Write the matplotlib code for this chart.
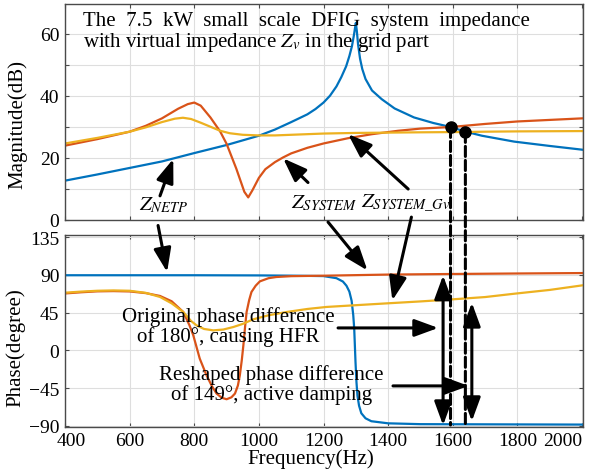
import matplotlib.pyplot as plt
from matplotlib.patches import ConnectionPatch
from matplotlib.transforms import ScaledTranslation

plt.rcParams['font.family'] = 'Liberation Serif'
plt.rcParams['mathtext.fontset'] = 'stix'

# magnitude (Hz, dB)
f_netp_mag = [400, 500, 600, 700, 800, 900, 1000, 1050, 1100, 1150, 1175, 1200, 1220, 1240,
              1255, 1270, 1280, 1288, 1294, 1298, 1300, 1303, 1307, 1313, 1320, 1330, 1350,
              1380, 1420, 1480, 1540, 1590, 1640, 1690, 1790, 1900, 2000]
netp_mag = [12.6, 14.6, 16.7, 18.8, 21.5, 24.1, 27.1, 29.1, 31.5, 34.0, 35.7, 37.8, 40.0, 43.0,
            46.0, 49.5, 52.8, 56.0, 59.5, 62.2, 63.5, 61.0, 56.5, 52.0, 48.6, 45.4, 41.7,
            38.9, 35.9, 33.0, 31.2, 30.0, 28.4, 27.1, 25.2, 23.8, 22.6]

f_sys_mag = [400, 500, 600, 650, 700, 750, 780, 800, 820, 850, 880, 900, 930, 955, 967, 980,
             1000, 1020, 1050, 1075, 1100, 1150, 1200, 1276, 1350, 1431, 1500, 1593, 1700,
             1800, 1900, 2000]
sys_mag = [23.9, 26.0, 28.4, 30.3, 32.7, 35.8, 37.3, 37.8, 36.8, 33.0, 28.5, 24.5, 16.5, 9.0,
           7.2, 9.5, 13.5, 16.3, 18.6, 20.1, 21.4, 23.2, 24.6, 26.3, 27.6, 28.7, 29.4, 29.9,
           30.9, 31.7, 32.2, 32.7]

f_gv_mag = [400, 500, 600, 650, 700, 740, 765, 790, 820, 850, 880, 910, 950, 1000, 1050,
            1100, 1200, 1300, 1400, 1500, 1639, 1700, 1800, 2000]
gv_mag = [24.6, 26.4, 28.4, 29.8, 31.5, 32.6, 32.9, 32.5, 31.3, 30.0, 28.7, 27.9, 27.4, 27.2,
          27.2, 27.4, 27.8, 28.0, 28.1, 28.2, 28.3, 28.4, 28.5, 28.6]

# phase (Hz, degree)
f_netp_ph = [400, 800, 1000, 1100, 1200, 1240, 1260, 1271, 1280, 1287, 1292, 1295, 1299,
             1302, 1305, 1310, 1317, 1330, 1348, 1400, 1500, 2000]
netp_ph = [89.5, 89.5, 89.3, 89.0, 88.5, 86.0, 82.0, 77.0, 70.0, 59.0, 42.0, 26.0, -14.0,
           -38.0, -54.0, -66.0, -75.0, -81.0, -84.5, -87.0, -88.0, -88.5]

f_sys_ph = [400, 450, 500, 550, 600, 650, 694, 730, 766, 785, 797, 817, 838, 855, 869, 885,
            900, 915, 926, 935, 941, 947, 952, 957, 962, 970, 977, 990, 1003, 1030, 1054,
            1100, 1209, 1400, 1600, 1800, 2000]
sys_ph = [67.8, 69.2, 70.3, 70.6, 70.2, 68.2, 64.8, 58.5, 45.7, 30.0, 17.9, -9.9, -29.8,
          -43.0, -51.5, -56.5, -58.3, -56.0, -51.5, -42.0, -29.8, -12.0, 6.0, 27.0, 45.7,
          60.0, 69.5, 77.0, 82.2, 86.0, 87.4, 88.4, 89.0, 90.3, 91.0, 91.6, 92.1]

f_gv_ph = [400, 450, 500, 550, 600, 650, 694, 730, 766, 790, 807, 830, 859, 890, 921, 950,
           982, 1030, 1086, 1150, 1209, 1300, 1379, 1500, 1585, 1700, 1791, 1900, 2000]
gv_ph = [68.7, 70.0, 71.0, 71.4, 71.0, 68.5, 63.6, 56.0, 45.7, 35.0, 29.8, 25.5, 23.8, 24.8,
         27.8, 31.5, 36.9, 41.8, 45.7, 49.3, 51.7, 53.8, 55.6, 58.3, 60.4, 63.5, 67.5, 72.0,
         77.4]

# crossing points marked with dots
dot_f = [1593, 1639]
dot_mag = [29.8, 28.2]

blue = '#0072BD'
orange = '#D95319'
yellow = '#EDB120'
grid_c = '#dedede'
axis_c = '#4a4a4a'

fig = plt.figure(figsize=(5.92, 4.77), dpi=100)
ax1 = fig.add_axes([0.1098, 0.5373, 0.875, 0.4522])
ax2 = fig.add_axes([0.1098, 0.1034, 0.875, 0.4019])

ax1.plot(f_netp_mag, netp_mag, color=blue, lw=1.6)
ax1.plot(f_sys_mag, sys_mag, color=orange, lw=1.6)
ax1.plot(f_gv_mag, gv_mag, color=yellow, lw=1.6)
ax1.plot(dot_f, dot_mag, 'o', color='k', ms=8, zorder=5)

ax2.plot(f_netp_ph, netp_ph, color=blue, lw=1.6)
ax2.plot(f_sys_ph, sys_ph, color=orange, lw=1.6)
ax2.plot(f_gv_ph, gv_ph, color=yellow, lw=1.6)

xt = list(range(400, 2001, 200))
for ax in (ax1, ax2):
    ax.set_xlim(400, 2003)
    ax.set_xticks(xt)
    ax.grid(True, color=grid_c, lw=0.8)
    ax.set_axisbelow(True)
    ax.tick_params(direction='in', length=3, width=0.8, colors=axis_c, labelcolor='k',
                   labelsize=14, top=True, right=True, pad=4)
    for s in ax.spines.values():
        s.set_color(axis_c)
        s.set_linewidth(1.0)

ax1.set_ylim(0, 69.6)
ax1.set_yticks(range(0, 70, 10))
ax1.set_yticklabels(['0', '', '20', '', '40', '', '60'])
ax1.tick_params(labelbottom=False)

ax2.set_ylim(-91, 137.5)
ax2.set_yticks([-90, -45, 0, 45, 90, 135])
ax2.set_xticklabels([str(v) for v in xt])
lbls = ax2.get_xticklabels()
lbls[-1].set_ha('right')
lbls[0].set_transform(lbls[0].get_transform() + ScaledTranslation(0.06, 0, fig.dpi_scale_trans))

ax1.set_ylabel('Magnitude(dB)', fontsize=15)
ax1.yaxis.set_label_coords(-0.072, 0.444)
ax2.set_ylabel('Phase(degree)', fontsize=15)
ax2.yaxis.set_label_coords(-0.077, 0.418)
ax2.set_xlabel('Frequency(Hz)', fontsize=15)
ax2.xaxis.set_label_coords(0.4745, -0.115)

ax1.text(0.035, 0.967, 'The  7.5  kW  small  scale  DFIG  system  impedance\n'
         'with virtual impedance $Z_v$ in the grid part',
         transform=ax1.transAxes, ha='left', va='top', fontsize=15, linespacing=1.0,
         zorder=6)

ax1.text(704, 5, r'$Z_{NETP}$', ha='center', va='center', fontsize=15)
ax1.text(1201, 5.7, r'$Z_{SYSTEM}$', ha='center', va='center', fontsize=15)
ax1.text(1454, 5.7, r'$Z_{SYSTEM\_Gv}$', ha='center', va='center', fontsize=15)

ax2.text(906, 28.8, 'Original phase difference\nof 180°, causing HFR',
         ha='center', va='center', fontsize=15, linespacing=1.05, zorder=6)
ax2.text(1039, -40, 'Reshaped phase difference\nof 149°, active damping',
         ha='center', va='center', fontsize=15, linespacing=1.05, zorder=6)


def arrow(ax, tail, tip, style='-|>'):
    ax.annotate('', xy=tip, xytext=tail, annotation_clip=False,
                arrowprops=dict(arrowstyle=style + ',head_length=0.6,head_width=0.22',
                                lw=2.2, color='k', mutation_scale=24,
                                shrinkA=0, shrinkB=0))


# magnitude pointers
arrow(ax1, (694, 7.7), (735, 19.6))
arrow(ax1, (1152, 12.0), (1075, 19.8))
arrow(ax1, (1462, 9.9), (1276, 27.6))
# phase pointers
arrow(ax2, (688, 148.8), (716, 93.3))
arrow(ax2, (1214, 152.9), (1336, 95.2))
arrow(ax2, (1472, 158.8), (1413, 59.5))
arrow(ax2, (1245, 26.7), (1555, 26.7))
arrow(ax2, (1415, -42.4), (1649, -42.4))
arrow(ax2, (1570, -89.3), (1570, 89.3), '<|-|>')
arrow(ax2, (1659, -84.5), (1659, 56.8), '<|-|>')

for fx, my in zip(dot_f, dot_mag):
    con = ConnectionPatch(xyA=(fx, my), coordsA=ax1.transData,
                          xyB=(fx, -89), coordsB=ax2.transData,
                          color='k', lw=2.2, ls=(0, (3.3, 1.3)))
    fig.add_artist(con)

fig.savefig('out.png', dpi=100)
